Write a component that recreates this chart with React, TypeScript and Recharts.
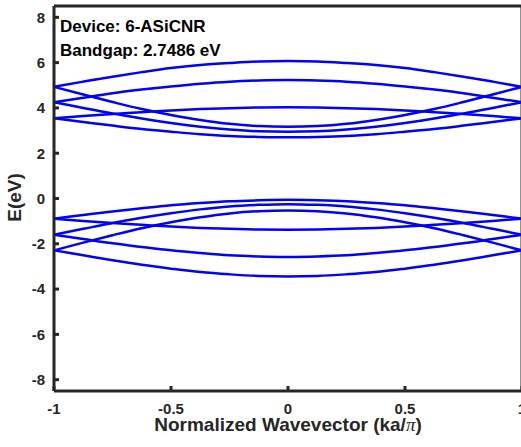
import { LineChart, Line, XAxis, YAxis } from "recharts";

// normalized wavevector samples (ka/pi)
const kPoints = [-1, -0.875, -0.75, -0.625, -0.5, -0.375, -0.25, -0.125, 0, 0.125, 0.25, 0.375, 0.5, 0.625, 0.75, 0.875, 1];

// conduction bands (eV)
const cb1 = [4.93, 5.16, 5.38, 5.58, 5.76, 5.89, 5.98, 6.05, 6.07, 6.05, 5.98, 5.89, 5.76, 5.58, 5.38, 5.16, 4.93];
const cb2 = [4.25, 4.45, 4.65, 4.81, 4.95, 5.07, 5.16, 5.21, 5.23, 5.21, 5.16, 5.07, 4.95, 4.81, 4.65, 4.45, 4.25];
const cb3 = [3.54, 3.64, 3.73, 3.81, 3.89, 3.95, 3.99, 4.02, 4.03, 4.02, 3.99, 3.95, 3.89, 3.81, 3.73, 3.64, 3.54];
const cb4 = [4.93, 4.59, 4.26, 3.95, 3.69, 3.47, 3.3, 3.2, 3.17, 3.2, 3.3, 3.47, 3.69, 3.95, 4.26, 4.59, 4.93];
const cb5 = [4.25, 4.0, 3.75, 3.53, 3.33, 3.17, 3.05, 2.97, 2.95, 2.97, 3.05, 3.17, 3.33, 3.53, 3.75, 4.0, 4.25];
const cb6 = [3.54, 3.38, 3.22, 3.07, 2.95, 2.84, 2.76, 2.72, 2.7, 2.72, 2.76, 2.84, 2.95, 3.07, 3.22, 3.38, 3.54];

// valence bands (eV)
const vb1 = [-0.89, -0.73, -0.57, -0.43, -0.3, -0.2, -0.12, -0.08, -0.06, -0.08, -0.12, -0.2, -0.3, -0.43, -0.57, -0.73, -0.89];
const vb2 = [-0.89, -0.99, -1.08, -1.16, -1.24, -1.3, -1.34, -1.37, -1.38, -1.37, -1.34, -1.3, -1.24, -1.16, -1.08, -0.99, -0.89];
const vb3 = [-1.6, -1.34, -1.08, -0.85, -0.65, -0.48, -0.35, -0.28, -0.25, -0.28, -0.35, -0.48, -0.65, -0.85, -1.08, -1.34, -1.6];
const vb4 = [-1.6, -1.79, -1.98, -2.14, -2.29, -2.41, -2.51, -2.56, -2.58, -2.56, -2.51, -2.41, -2.29, -2.14, -1.98, -1.79, -1.6];
const vb5 = [-2.29, -1.95, -1.62, -1.31, -1.05, -0.83, -0.66, -0.56, -0.53, -0.56, -0.66, -0.83, -1.05, -1.31, -1.62, -1.95, -2.29];
const vb6 = [-2.29, -2.51, -2.73, -2.93, -3.1, -3.25, -3.35, -3.42, -3.44, -3.42, -3.35, -3.25, -3.1, -2.93, -2.73, -2.51, -2.29];

const xTicks = [-1, -0.5, 0, 0.5, 1];
const yTicks = [-8, -6, -4, -2, 0, 2, 4, 6, 8];

const bands: Record<string, number[]> = { cb1, cb2, cb3, cb4, cb5, cb6, vb1, vb2, vb3, vb4, vb5, vb6 };

const data = kPoints.map((k, i) => {
  const row: Record<string, number> = { k };
  Object.entries(bands).forEach(([name, vals]) => (row[name] = vals[i]));
  return row;
});

const ink = "#262626";
const font = "'Liberation Sans', Arial, Helvetica, sans-serif";
const axisLine = { stroke: ink, strokeWidth: 3 };
const tickLine = { stroke: ink, strokeWidth: 3 };
const tickStyle = { fill: ink, fontSize: 15, fontWeight: 700, fontFamily: font };

export default function App() {
  return (
    <div style={{ position: "absolute", left: 0, top: 0, width: 521, height: 447, overflow: "hidden", background: "#fff" }}>
      <LineChart width={532} height={447} data={data} margin={{ top: 0, right: 0, bottom: 0, left: 0 }}>
        <XAxis
          dataKey="k"
          type="number"
          domain={[-1, 1]}
          ticks={xTicks}
          height={56}
          axisLine={axisLine}
          tickLine={tickLine}
          tickSize={-5}
          tickMargin={17}
          tick={tickStyle}
          interval={0}
        />
        <XAxis
          xAxisId="top"
          orientation="top"
          dataKey="k"
          type="number"
          domain={[-1, 1]}
          ticks={xTicks}
          height={6}
          axisLine={axisLine}
          tickLine={tickLine}
          tickSize={-5}
          tick={false}
        />
        <YAxis
          type="number"
          domain={[-8.5, 8.5]}
          ticks={yTicks}
          width={54}
          axisLine={axisLine}
          tickLine={tickLine}
          tickSize={-5}
          tickMargin={14}
          tick={tickStyle}
          interval={0}
        />
        <YAxis
          yAxisId="right"
          orientation="right"
          type="number"
          domain={[-8.5, 8.5]}
          ticks={yTicks}
          width={10}
          axisLine={axisLine}
          tickLine={tickLine}
          tickSize={-5}
          tick={false}
        />
        {Object.keys(bands).map((name) => (
          <Line
            key={name}
            dataKey={name}
            type="monotone"
            stroke="#0000ff"
            strokeWidth={2.5}
            dot={false}
            activeDot={false}
            isAnimationActive={false}
          />
        ))}
      </LineChart>
      <svg width={521} height={447} style={{ position: "absolute", left: 0, top: 0, pointerEvents: "none" }}>
        <g fontFamily={font} fontWeight={700} fill="#000">
          <text x={60} y={32} fontSize={17}>Device: 6-ASiCNR</text>
          <text x={60} y={55.5} fontSize={17}>Bandgap: 2.7486 eV</text>
        </g>
        <text x={288} y={431} fontSize={19} fontFamily={font} fontWeight={700} fill={ink} textAnchor="middle">
          Normalized Wavevector (ka/
          <tspan fontFamily="'Liberation Serif', serif" fontStyle="italic" fontWeight={400}>π</tspan>)
        </text>
        <text
          transform="translate(20.5,197.5) rotate(-90)"
          fontSize={19}
          fontFamily={font}
          fontWeight={700}
          fill={ink}
          textAnchor="middle"
        >
          E(eV)
        </text>
      </svg>
    </div>
  );
}
